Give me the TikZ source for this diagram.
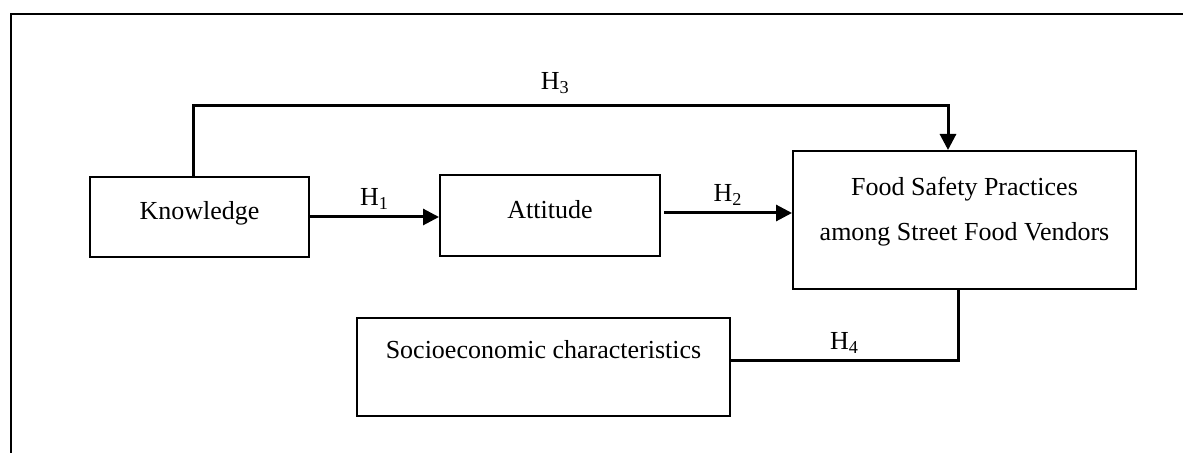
\documentclass[tikz,border=0pt]{standalone}
\usepackage{fontspec}
\setmainfont{Liberation Serif}
\usetikzlibrary{arrows.meta}

\begin{document}
\begin{tikzpicture}[x=0.5pt, y=-0.5pt,
  every node/.style={font=\fontsize{13}{22.5}\selectfont},
  box/.style={draw, line width=1pt, inner sep=0pt},
  lift/.style={text height=9pt, text depth=#1},
  link/.style={line width=1.5pt},
  tip/.style={-{Triangle[length=8pt,width=8pt]}},
  hyp/.style={above, inner sep=3pt}]
  \clip (0,0) rectangle (1183,453);
  \draw[line width=1pt] (11,14) rectangle (1200,470);

  % the four blocks
  \node[box, lift=6pt, minimum width=109.5pt, minimum height=40pt] (know) at (199.5,217) {Knowledge};
  \node[box, lift=6pt, minimum width=110pt, minimum height=40.5pt] (att) at (550,215.5) {Attitude};
  \node[box, align=center, minimum width=171.5pt, minimum height=69pt] (food) at (964.5,220)
    {Food Safety Practices\\among Street Food Vendors\rule[-11pt]{0pt}{11pt}};
  \node[box, lift=17pt, minimum width=186.5pt, minimum height=49pt] (socio) at (543.5,367) {Socioeconomic characteristics};

  % hypotheses
  \draw[link, tip] (know.east) -- node[hyp] {H\textsubscript{1}} (att.west |- know.east);
  \draw[link, tip] ([xshift=1.5pt]att.east |- 0,213) -- node[hyp] {H\textsubscript{2}} (food.west |- 0,213);
  \draw[link, tip] ([xshift=-3.25pt]know.north) -- ([xshift=-3.25pt]know.north |- 0,106)
    -- node[hyp, pos=0.48, yshift=2.5pt] {H\textsubscript{3}} (948,106) -- (food.north -| 948,0);
  \draw[link] (socio.east |- 0,361) -- node[hyp] {H\textsubscript{4}} (958,361) -- (food.south -| 958,0);
\end{tikzpicture}
\end{document}
